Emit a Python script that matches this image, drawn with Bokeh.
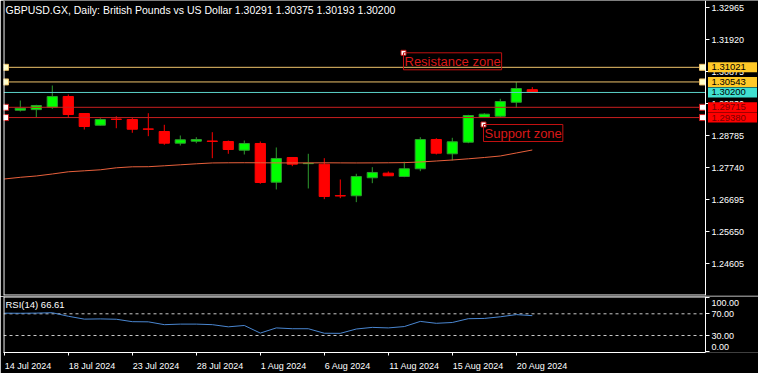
from bokeh.plotting import figure
from bokeh.models import Range1d, FixedTicker, Label, Span, ColumnDataSource, NumeralTickFormatter
from bokeh.layouts import column
from bokeh.embed import file_html
from bokeh.resources import INLINE
from bokeh.core.properties import value

# ---------------- data ----------------
dates = ["14 Jul", "15 Jul", "16 Jul", "17 Jul", "18 Jul", "19 Jul", "21 Jul", "22 Jul",
         "23 Jul", "24 Jul", "25 Jul", "26 Jul", "28 Jul", "29 Jul", "30 Jul", "31 Jul",
         "1 Aug", "2 Aug", "4 Aug", "5 Aug", "6 Aug", "7 Aug", "8 Aug", "9 Aug",
         "11 Aug", "12 Aug", "13 Aug", "14 Aug", "15 Aug", "16 Aug", "18 Aug", "19 Aug",
         "20 Aug", "21 Aug"]
year = "2024"

opens = [None, 1.29620, 1.29640, 1.29718, 1.30068, 1.29512, 1.29130, 1.29330,
         1.29317, 1.29010, 1.28925, 1.28543, 1.28608, 1.28615, 1.28598, 1.28314,
         1.28533, 1.27270, 1.28076, 1.27875, 1.27857, 1.26830, 1.26826, 1.27414,
         1.27564, 1.27456, 1.27708, 1.28664, 1.28197, 1.28576, 1.29393, 1.29424,
         1.29881, 1.30291]
highs = [None, 1.29937, 1.29797, 1.30427, 1.30133, 1.29520, 1.29359, 1.29424,
         1.29372, 1.29522, 1.29144, 1.28794, 1.28739, 1.28902, 1.28630, 1.28630,
         1.28598, 1.28403, 1.28085, 1.28197, 1.28053, 1.27358, 1.27544, 1.27760,
         1.27620, 1.27937, 1.28739, 1.28706, 1.28719, 1.29470, 1.29522, 1.29993,
         1.30535, 1.30375]
lows = [None, 1.29578, 1.29392, 1.29666, 1.29372, 1.28990, 1.29120, 1.29032,
        1.28883, 1.28772, 1.28491, 1.28468, 1.28543, 1.28053, 1.28197, 1.28174,
        1.27217, 1.27032, 1.27792, 1.27064, 1.26715, 1.26748, 1.26617, 1.27237,
        1.27470, 1.27434, 1.27629, 1.28174, 1.27978, 1.28543, 1.29380, 1.29392,
        1.29699, 1.30193]
closes = [None, 1.29686, 1.29774, 1.30068, 1.29480, 1.29088, 1.29317, 1.29320,
          1.28999, 1.28998, 1.28543, 1.28654, 1.28664, 1.28600, 1.28337, 1.28533,
          1.27260, 1.28044, 1.27857, 1.27885, 1.26803, 1.26820, 1.27456, 1.27587,
          1.27479, 1.27708, 1.28664, 1.28217, 1.28589, 1.29447, 1.29491, 1.29904,
          1.30329, 1.30200]
ma = [1.27374, 1.27429, 1.27472, 1.27537, 1.27609, 1.27641, 1.27674, 1.27739,
      1.27772, 1.27775, 1.27805, 1.27837, 1.27870, 1.27898, 1.27903, 1.27905,
      1.27903, 1.27900, 1.27898, 1.27900, 1.27903, 1.27900, 1.27898, 1.27900,
      1.27903, 1.27908, 1.27929, 1.27961, 1.27994, 1.28033, 1.28076, 1.28125,
      1.28223, 1.28321]
rsi = [71.2, 71.0, 71.3, 72.0, 65.5, 60.2, 60.6, 60.0, 55.5, 55.2, 50.0, 51.0,
       51.0, 50.0, 46.0, 48.5, 34.5, 44.0, 42.5, 42.5, 34.2, 34.0, 42.0, 45.0,
       44.0, 46.5, 56.0, 52.5, 54.0, 61.0, 61.5, 64.5, 68.5, 66.61]

price_ticks = [1.24605, 1.25650, 1.26695, 1.27740, 1.28785, 1.29830, 1.30875, 1.31920, 1.32965]
date_tick_idx = [0, 4, 8, 12, 16, 20, 24, 28, 32]
rsi_levels = [70, 30]
rsi_ticks = [0, 30, 70, 100]

resistance_lines = [1.31021, 1.30543]
support_lines = [1.29715, 1.29380]
bid_line = 1.30200
res_label = ("12 Aug", 1.31495, "Resistance zone")
sup_label = ("18 Aug", 1.29153, "Support zone")

title = "GBPUSD.GX, Daily:  British Pounds vs US Dollar  1.30291 1.30375 1.30193 1.30200"
rsi_title = "RSI(14) 66.61"

# ---------------- styling / layout ----------------
W, H_MAIN, H_RSI = 758, 296, 77
LEFT = 3
FRAME_W = W - LEFT
PX_PER_BAR = 16.0
X0 = -0.05
X1 = X0 + FRAME_W / PX_PER_BAR
X_AXIS = X0 + 702 / PX_PER_BAR          # price scale sits 702 px right of the frame's left
Y0, Y1 = 1.23569, 1.33203
PX_PER_PRICE = (H_MAIN - 1) / (Y1 - Y0)
FONT = "Liberation Sans"
AX_FONT = "9px"

BULL_FILL, BULL_LINE = "#00FF00", "#2E9A2E"
BEAR_FILL, BEAR_LINE = "#FF0000", "#FF0000"
YEL, CYA, RED = "#EFC36B", "#5AD2C8", "#C81E1E"


def style_right_axis(ax):
    ax.fixed_location = X_AXIS
    ax.axis_line_color = "white"
    ax.major_tick_line_color = "white"
    ax.major_tick_out = 4
    ax.major_tick_in = 0
    ax.minor_tick_line_color = None
    ax.major_label_text_color = "white"
    ax.major_label_text_font = FONT
    ax.major_label_text_font_size = AX_FONT
    ax.major_label_standoff = 2


p = figure(width=W, height=H_MAIN, x_range=Range1d(X0, X1), y_range=Range1d(Y0, Y1),
           output_backend="svg", toolbar_location=None, x_axis_location=None,
           y_axis_location="right", background_fill_color="black", border_fill_color="black",
           min_border_left=LEFT, min_border_right=0, min_border_top=0, min_border_bottom=1)
p.grid.visible = False
p.outline_line_color = None

ya = p.yaxis[0]
ya.ticker = FixedTicker(ticks=price_ticks)
ya.formatter = NumeralTickFormatter(format="0.00000")
style_right_axis(ya)

# frame borders (left and bottom)
p.add_layout(Span(location=X0 + 0.5 / PX_PER_BAR, dimension="height", line_color="white", line_width=1))
p.segment(x0=[X0], y0=[Y0 + 0.5 / PX_PER_PRICE], x1=[X_AXIS], y1=[Y0 + 0.5 / PX_PER_PRICE],
          line_color="white", line_width=1)

# candles
idx = [i for i in range(len(dates)) if opens[i] is not None]
src = ColumnDataSource(dict(
    x=idx,
    high=[highs[i] for i in idx],
    low=[lows[i] for i in idx],
    top=[max(opens[i], closes[i]) for i in idx],
    bottom=[min(opens[i], closes[i]) for i in idx],
    fill=[BULL_FILL if closes[i] >= opens[i] else BEAR_FILL for i in idx],
    line=[BULL_LINE if closes[i] >= opens[i] else BEAR_LINE for i in idx],
))
p.segment(x0="x", y0="high", x1="x", y1="low", line_color="line", line_width=1, source=src)
p.vbar(x="x", width=0.64, top="top", bottom="bottom", fill_color="fill", line_color="line",
       line_width=1, source=src)

# moving average
p.line(list(range(len(dates))), ma, line_color="#E8603C", line_width=1)

# horizontal lines (stop at the price scale)
levels_all = resistance_lines + [bid_line] + support_lines
lcols = [YEL, YEL, CYA, RED, RED]
p.segment(x0=[X0] * 5, y0=levels_all, x1=[X_AXIS] * 5, y1=levels_all, line_color=lcols, line_width=1)

# handles on line ends
hx_left = X0 + 2.0 / PX_PER_BAR
hx_right = X_AXIS - 3.0 / PX_PER_BAR
levels = resistance_lines + support_lines
hcols = [YEL, YEL, RED, RED]
hfill = ["#FFFFC8", "#FFFFC8", "white", "white"]
p.scatter([hx_left] * 4, levels, marker="square", size=6, fill_color=hfill, line_color=hcols)
p.scatter([hx_right] * 4, levels, marker="square", size=6, fill_color=hfill, line_color=hcols)

# zone labels
for (d, price, txt) in (res_label, sup_label):
    xi = dates.index(d) - 0.05
    p.add_layout(Label(x=xi, y=price, text=txt, text_color="#D81818", text_font=FONT,
                       text_font_size="13px", text_align="left", text_baseline="top",
                       border_line_color="#C01010", border_line_width=1, padding=1))
    p.scatter([xi], [price], marker="square", size=5, fill_color="white", line_color="#C01010")

# title
p.add_layout(Label(x=2, x_units="screen", y=Y1 - 3 / PX_PER_PRICE, text=title,
                   text_color="white", text_font=FONT, text_font_size="10.5px",
                   text_align="left", text_baseline="top"))

# price tags on the price scale (drawn above the scale's own labels)
tags = [(1.31021, "#FFC928", "black"), (1.30543, "#FFC928", "black"),
        (bid_line, "#40E0D0", "black"), (1.29715, "#FF0000", "#7A0000"),
        (1.29380, "#FF0000", "#7A0000")]
tag_src = ColumnDataSource(dict(
    y=[t[0] for t in tags],
    top=[t[0] + 5.0 / PX_PER_PRICE for t in tags],
    bottom=[t[0] - 5.0 / PX_PER_PRICE for t in tags],
    bg=[t[1] for t in tags],
    fg=[t[2] for t in tags],
    txt=[f"{t[0]:.5f}" for t in tags],
))
tq = p.quad(left=X_AXIS + 2.5 / PX_PER_BAR, right=X_AXIS + 51.5 / PX_PER_BAR, top="top", bottom="bottom",
            fill_color="bg", line_color=None, source=tag_src)
tt = p.text(x=X_AXIS + 6 / PX_PER_BAR, y="y", text="txt", text_color="fg", text_font=value(FONT),
            text_font_size="9.5px", text_align="left", text_baseline="middle", source=tag_src)
tq.level = "overlay"
tt.level = "overlay"

# ---------------- RSI panel ----------------
R0, R1 = -1.3, 101.9
p2 = figure(width=W, height=H_RSI, x_range=p.x_range, y_range=Range1d(R0, R1),
            output_backend="svg", toolbar_location=None, y_axis_location="right",
            background_fill_color="black", border_fill_color="black",
            min_border_left=LEFT, min_border_right=0, min_border_top=0, min_border_bottom=21)
p2.grid.visible = False
p2.outline_line_color = None
PX_PER_RSI = (H_RSI - 21) / (R1 - R0)

# date axis: tick marks on the dates, labels set off to the right of them
CHAR_W = {"0": .556, "1": .556, "2": .556, "3": .556, "4": .556, "5": .556, "6": .556,
          "7": .556, "8": .556, "9": .556, " ": .278, "J": .5, "u": .556, "l": .222,
          "A": .667, "g": .556}
label_pos, overrides = [], {}
for i in date_tick_idx:
    txt = f"{dates[i]} {year}"
    w_px = sum(CHAR_W.get(c, .556) for c in txt) * 9
    pos = i + (w_px / 2 + 0.5) / PX_PER_BAR
    label_pos.append(pos)
    overrides[pos] = txt
xa = p2.xaxis[0]
xa.ticker = FixedTicker(ticks=label_pos, minor_ticks=date_tick_idx)
xa.major_label_overrides = overrides
xa.major_label_text_color = "white"
xa.major_label_text_font = FONT
xa.major_label_text_font_size = AX_FONT
xa.major_label_standoff = 2
xa.axis_line_color = "white"
xa.bounds = (X0, X_AXIS)
xa.major_tick_line_color = None
xa.minor_tick_line_color = "white"
xa.minor_tick_out = 3
xa.minor_tick_in = 0

ya2 = p2.yaxis[0]
ya2.ticker = FixedTicker(ticks=rsi_ticks)
ya2.major_label_overrides = {0: "", 30: "30.00", 70: "70.00", 100: ""}
style_right_axis(ya2)

# frame borders (left and top)
p2.add_layout(Span(location=X0 + 0.5 / PX_PER_BAR, dimension="height", line_color="white", line_width=1))
p2.segment(x0=[X0], y0=[R1 - 0.5 / PX_PER_RSI], x1=[X_AXIS], y1=[R1 - 0.5 / PX_PER_RSI],
           line_color="white", line_width=1)

p2.segment(x0=[X0] * 2, y0=rsi_levels, x1=[X_AXIS] * 2, y1=rsi_levels, line_color="#C8C8C8",
           line_width=1, line_dash="3 3")
p2.line(list(range(len(dates))), rsi, line_color="#4A86D0", line_width=1)

# end labels of the RSI scale, kept inside the panel
end_src = ColumnDataSource(dict(
    y=[100 - 5.7 / PX_PER_RSI, 0 + 4.6 / PX_PER_RSI],
    txt=["100.00", "0.00"],
))
p2.text(x=X_AXIS + 6 / PX_PER_BAR, y="y", text="txt", text_color="white", text_font=value(FONT),
        text_font_size=AX_FONT, text_align="left", text_baseline="middle", source=end_src)

p2.add_layout(Label(x=2, x_units="screen", y=R1 - 2 / PX_PER_RSI, text=rsi_title,
                    text_color="white", text_font=FONT, text_font_size="9.5px",
                    text_align="left", text_baseline="top"))

layout = column(p, p2, spacing=0)
open("out.html", "w").write(file_html(layout, INLINE))
